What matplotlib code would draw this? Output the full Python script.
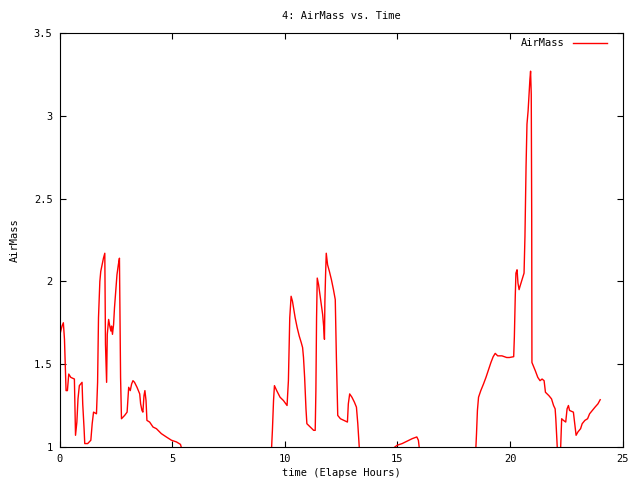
import matplotlib
matplotlib.use("Agg")
import matplotlib.pyplot as plt

# elapsed hours and airmass (values < 1 are off the plot)
hours = [0.02, 0.11, 0.17, 0.22, 0.29, 0.35, 0.41, 0.5, 0.66, 0.71, 0.77, 0.82, 0.88,
         1.0, 1.03, 1.09, 1.12, 1.25, 1.39, 1.45, 1.51, 1.64, 1.69, 1.73, 1.79, 1.83,
         1.89, 1.95, 2.01, 2.04, 2.09, 2.12, 2.18, 2.23, 2.28, 2.31, 2.35, 2.4, 2.44,
         2.49, 2.55, 2.61, 2.66, 2.71, 2.75, 2.89, 3.0, 3.07, 3.14, 3.2, 3.26, 3.33,
         3.44, 3.56, 3.6, 3.66, 3.7, 3.75, 3.79, 3.84, 3.88, 4.0, 4.15, 4.3, 4.52,
         4.74, 4.97, 5.19, 5.37, 5.5,
         9.38, 9.45, 9.5, 9.54, 9.64, 9.79, 9.94, 10.1, 10.16, 10.22, 10.28, 10.34,
         10.4, 10.46, 10.55, 10.64, 10.73, 10.79, 10.83, 10.88, 10.94, 10.98, 11.13,
         11.28, 11.35, 11.38, 11.41, 11.44, 11.5, 11.56, 11.62, 11.68, 11.73, 11.76,
         11.78, 11.81, 11.84, 11.9, 11.98, 12.07, 12.16, 12.24, 12.29, 12.35, 12.47,
         12.62, 12.78, 12.82, 12.88, 12.98, 13.09, 13.18, 13.24, 13.28, 13.35,
         14.7, 14.99, 15.21, 15.43, 15.66, 15.86, 15.93, 16.05,
         18.45, 18.51, 18.55, 18.6, 18.7, 18.82, 18.93, 19.05, 19.15, 19.25, 19.34,
         19.45, 19.64, 19.85, 19.97, 20.16, 20.19, 20.23, 20.26, 20.31, 20.35, 20.4,
         20.44, 20.53, 20.62, 20.66, 20.71, 20.75, 20.8, 20.84, 20.88, 20.91, 20.94,
         20.96, 20.97, 21.03, 21.12, 21.23, 21.33, 21.42, 21.51, 21.57, 21.72, 21.84,
         21.93, 22.0, 22.03, 22.07, 22.13, 22.22, 22.29, 22.37, 22.47, 22.53, 22.59,
         22.64, 22.81, 22.87, 22.93, 23.01, 23.13, 23.2, 23.32, 23.44, 23.53, 23.65,
         23.77, 23.9, 24.0]
airmass = [1.68, 1.73, 1.75, 1.65, 1.34, 1.34, 1.44, 1.42, 1.41, 1.07, 1.15, 1.29, 1.37,
           1.39, 1.26, 1.11, 1.02, 1.02, 1.04, 1.14, 1.21, 1.20, 1.39, 1.78, 2.0, 2.06,
           2.1, 2.14, 2.17, 1.62, 1.39, 1.68, 1.77, 1.73, 1.70, 1.73, 1.68, 1.74, 1.84,
           1.93, 2.04, 2.1, 2.14, 1.42, 1.17, 1.19, 1.21, 1.36, 1.34, 1.38, 1.40, 1.39,
           1.36, 1.32, 1.26, 1.22, 1.21, 1.31, 1.34, 1.28, 1.16, 1.15, 1.12, 1.11, 1.08,
           1.06, 1.04, 1.03, 1.015, 0.95,
           0.9, 1.1, 1.28, 1.37, 1.34, 1.30, 1.28, 1.25, 1.40, 1.78, 1.91, 1.88,
           1.83, 1.78, 1.72, 1.67, 1.63, 1.6, 1.54, 1.42, 1.23, 1.14, 1.12,
           1.10, 1.10, 1.34, 1.78, 2.02, 1.98, 1.92, 1.86, 1.80, 1.72, 1.65,
           1.88, 2.04, 2.17, 2.10, 2.06, 2.01, 1.95, 1.89, 1.54, 1.19, 1.17,
           1.16, 1.15, 1.26, 1.32, 1.30, 1.27, 1.24, 1.14, 1.05, 0.9,
           0.98, 1.01, 1.02, 1.035, 1.05, 1.06, 1.04, 0.9,
           0.9, 1.08, 1.22, 1.30, 1.34, 1.38, 1.42, 1.47, 1.51, 1.545, 1.565,
           1.55, 1.55, 1.54, 1.54, 1.545, 1.665, 1.91, 2.05, 2.07, 1.99, 1.95,
           1.97, 2.01, 2.05, 2.27, 2.70, 2.95, 3.03, 3.13, 3.22, 3.27, 3.13,
           2.39, 1.51, 1.49, 1.46, 1.42, 1.40, 1.41, 1.40, 1.33, 1.31, 1.29,
           1.25, 1.23, 1.17, 1.06, 0.9, 0.9, 1.17, 1.16, 1.15, 1.23, 1.25,
           1.22, 1.21, 1.14, 1.07, 1.09, 1.11, 1.14, 1.16, 1.17, 1.2, 1.22,
           1.24, 1.26, 1.285]

x_ticks = [0, 5, 10, 15, 20, 25]
y_ticks = [1, 1.5, 2, 2.5, 3, 3.5]
y_tick_labels = ["1", "1.5", "2", "2.5", "3", "3.5"]

plt.rcParams['font.family'] = 'DejaVu Sans Mono'
plt.rcParams['font.size'] = 7.5

fig = plt.figure(figsize=(6.4, 4.8), dpi=100)
ax = fig.add_axes([0.093, 0.069, 0.880, 0.862])

ax.plot(hours, airmass, color='#ff0000', linewidth=1.0, label='AirMass')

ax.set_xlim(0, 25)
ax.set_ylim(1, 3.5)
ax.set_xticks(x_ticks)
ax.set_yticks(y_ticks)
ax.set_yticklabels(y_tick_labels)
ax.tick_params(direction='in', length=4.3, width=0.8, top=True, right=True, pad=5)
for side in ax.spines.values():
    side.set_linewidth(0.8)

ax.set_title("4: AirMass vs. Time", fontsize=7.5, pad=10)
ax.set_xlabel("time (Elapse Hours)", labelpad=3)
ax.set_ylabel("AirMass", labelpad=10)

ax.legend(loc='upper right', bbox_to_anchor=(0.985, 1.005), frameon=False,
          handlelength=3.3, markerfirst=False, borderaxespad=0.3)

fig.savefig("out.png", dpi=100)
